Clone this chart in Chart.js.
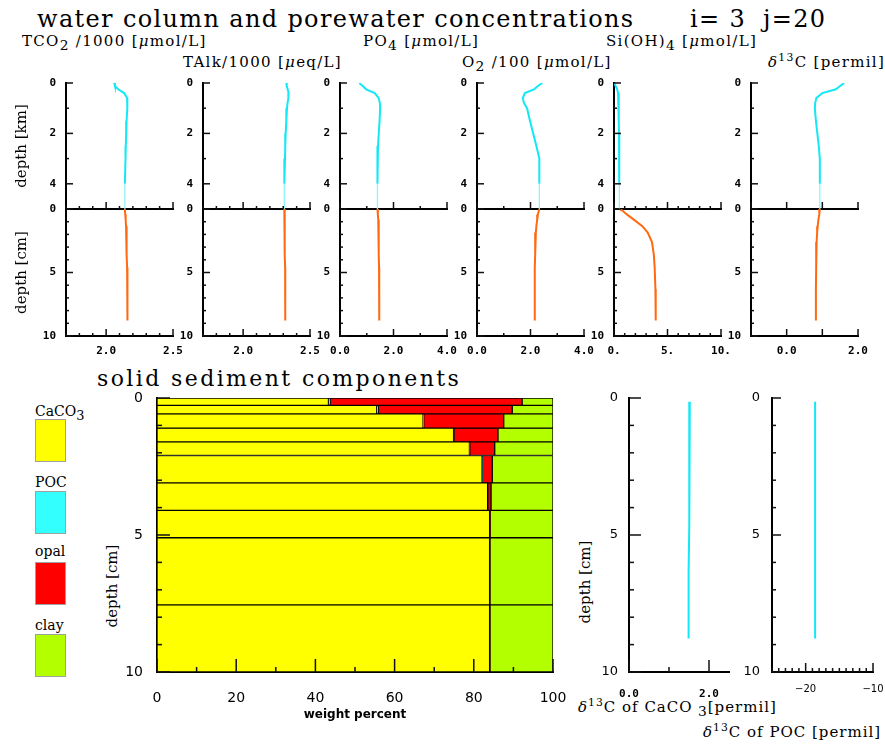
<!DOCTYPE html>
<html>
<head>
<meta charset="utf-8">
<title>water column and porewater concentrations</title>
<script src="https://cdn.jsdelivr.net/npm/chart.js@4/dist/chart.umd.min.js"></script>
<style>
  html, body { margin: 0; padding: 0; background: #fff; }
  #page { position: relative; width: 885px; height: 746px; overflow: hidden; font-family: 'DejaVu Serif', serif; color: #000; }
  .txt { position: absolute; white-space: nowrap; line-height: 1; }
  .big { font-size: 24px; letter-spacing: 1.35px; }
  .lbl { font-size: 15px; letter-spacing: 1.3px; }
  .rot { position: absolute; white-space: nowrap; line-height: 1; transform: translate(-50%, -50%) rotate(-90deg); }
  .swatch { position: absolute; width: 31px; height: 43px; border: 1px solid #a0a0a0; box-sizing: border-box; }
  .cv { position: absolute; }
  .lo { font-size: 92%; position: relative; top: 4px; }
  .hi { font-size: 72%; position: relative; top: -6px; }
</style>
</head>
<body>
<div id="page">
  <div class="txt big" style="left:37px;top:7px">water column and porewater concentrations</div>
  <div class="txt big" style="left:690px;top:7px">i= 3</div>
  <div class="txt big" style="left:763px;top:7px">j=20</div>

  <div class="txt lbl" style="left:22px;top:34px">TCO<span class="lo">2</span> /1000 [<i>μ</i>mol/L]</div>
  <div class="txt lbl" style="left:183px;top:55px">TAlk/1000 [<i>μ</i>eq/L]</div>
  <div class="txt lbl" style="left:363px;top:34px">PO<span class="lo">4</span> [<i>μ</i>mol/L]</div>
  <div class="txt lbl" style="left:462px;top:55px">O<span class="lo">2</span> /100 [<i>μ</i>mol/L]</div>
  <div class="txt lbl" style="left:606px;top:34px">Si(OH)<span class="lo">4</span> [<i>μ</i>mol/L]</div>
  <div class="txt lbl" style="left:768px;top:55px"><i>δ</i><span class="hi">13</span>C [permil]</div>

  <div class="txt" style="left:97px;top:368px;font-size:22px;letter-spacing:2.4px">solid sediment components</div>

  <div class="txt" style="left:35px;top:404px;font-size:14px">CaCO<span class="lo">3</span></div>
  <div class="swatch" style="left:35px;top:419px;background:#ffff00"></div>
  <div class="txt" style="left:35px;top:475px;font-size:14px">POC</div>
  <div class="swatch" style="left:35px;top:491px;background:#33ffff"></div>
  <div class="txt" style="left:35px;top:544px;font-size:14px">opal</div>
  <div class="swatch" style="left:35px;top:562px;background:#ff0000"></div>
  <div class="txt" style="left:35px;top:618px;font-size:14px">clay</div>
  <div class="swatch" style="left:35px;top:634px;background:#b3ff00"></div>

  <div class="rot" style="left:112px;top:586px;font-size:15px">depth [cm]</div>
  <div class="rot" style="left:585px;top:582px;font-size:15px">depth [cm]</div>
  <div class="txt" style="left:578px;top:700px;font-size:15px;letter-spacing:1px"><i>δ</i><span class="hi">13</span>C of CaCO<span class="lo"> 3</span>[permil]</div>
  <div class="txt" style="left:703px;top:725px;font-size:15px;letter-spacing:1px"><i>δ</i><span class="hi">13</span>C of POC [permil]</div>
</div>
<script>
// Water column (km) and porewater (cm) profiles for one grid cell,
// plus the solid sediment composition by layer.

const wcDepth = [0, 0.12, 0.25, 0.4, 0.6, 0.8, 1, 1.5, 2, 2.5, 3, 4, 5];
const tco2Water = [2.06, 2.066, 2.09, 2.135, 2.157, 2.16, 2.157, 2.153, 2.15, 2.147, 2.145, 2.14, 2.14];
const talkWater = [2.323, 2.326, 2.333, 2.34, 2.338, 2.332, 2.328, 2.323, 2.318, 2.315, 2.313, 2.308, 2.308];
const po4Water = [0.72, 0.85, 0.98, 1.3, 1.45, 1.49, 1.5, 1.48, 1.45, 1.42, 1.4, 1.4, 1.4];
const o2Water = [2.44, 2.28, 2.13, 1.79, 1.71, 1.76, 1.87, 1.98, 2.1, 2.22, 2.33, 2.33, 2.33];
const siWater = [0.03, 0.15, 0.3, 0.38, 0.42, 0.44, 0.45, 0.46, 0.47, 0.48, 0.49, 0.5, 0.5];
const d13cWater = [1.61, 1.5, 1.38, 1.0, 0.83, 0.8, 0.79, 0.82, 0.86, 0.9, 0.93, 0.93, 0.93];

const pwDepth = [0, 0.135, 0.425, 0.84, 1.35, 1.85, 2.6, 3.6, 4.6, 6.3, 8.775];
const tco2Pore = [2.14, 2.141, 2.143, 2.146, 2.149, 2.151, 2.153, 2.155, 2.157, 2.159, 2.16];
const talkPore = [2.308, 2.308, 2.309, 2.31, 2.311, 2.312, 2.313, 2.313, 2.314, 2.315, 2.315];
const po4Pore = [1.4, 1.41, 1.42, 1.43, 1.44, 1.445, 1.45, 1.455, 1.46, 1.465, 1.47];
const o2Pore = [2.33, 2.31, 2.28, 2.25, 2.22, 2.2, 2.18, 2.17, 2.16, 2.16, 2.16];
const siPore = [0.5, 0.81, 1.2, 1.85, 2.65, 3.15, 3.55, 3.72, 3.8, 3.87, 3.9];
const d13cPore = [0.93, 0.92, 0.91, 0.89, 0.87, 0.855, 0.84, 0.83, 0.825, 0.82, 0.82];

const layerEdges = [0, 0.27, 0.58, 1.1, 1.6, 2.1, 3.1, 4.1, 5.1, 7.55, 10];
const caco3Pct = [43.3, 55.5, 67.2, 74.9, 78.9, 82.1, 83.5, 84.0, 84.0, 84.0];
const pocPct = [0.5, 0.4, 0.15, 0.1, 0.08, 0.06, 0.05, 0.05, 0.05, 0.05];
const opalPct = [48.4, 33.8, 20.2, 11.1, 6.3, 2.5, 0.8, 0.1, 0.05, 0.05];
const clayPct = [7.8, 10.3, 12.45, 13.9, 14.72, 15.34, 15.65, 15.85, 15.9, 15.9];
const d13cCaco3 = [1.52, 1.52, 1.51, 1.51, 1.51, 1.5, 1.5, 1.5, 1.49, 1.49];
const d13cPoc = [-18.6, -18.6, -18.6, -18.6, -18.6, -18.6, -18.6, -18.6, -18.6, -18.6];

const CYAN = '#12e8f6';
const CYAN_PALE = '#8ef4fa';
const ORANGE = '#ff6a10';

Chart.defaults.font.family = "'DejaVu Sans', sans-serif";
Chart.defaults.color = '#000';

const page = document.getElementById('page');
const monoBold = { family: "'DejaVu Sans Mono', monospace", size: 11, weight: 'bold' };
const serif15 = { family: "'DejaVu Serif', serif", size: 15 };

// ticks are drawn pointing into the plot, longer on the major steps
const innerTicks = {
    id: 'innerTicks',
    afterDraw(chart, args, opts) {
        if (!opts || !opts.majorLen) return;
        const ctx = chart.ctx;
        ctx.save();
        ctx.strokeStyle = '#111';
        ctx.lineWidth = 1.5;
        ['x', 'y'].forEach(id => {
            const scale = chart.scales[id];
            const major = id === 'x' ? opts.xMajor : opts.yMajor;
            if (!scale || !major) return;
            scale.ticks.forEach(t => {
                const r = t.value / major;
                const len = Math.abs(r - Math.round(r)) < 1e-6 ? opts.majorLen : opts.minorLen;
                const p = scale.getPixelForValue(t.value);
                ctx.beginPath();
                if (id === 'x') { ctx.moveTo(p, scale.top); ctx.lineTo(p, scale.top - len); }
                else { ctx.moveTo(scale.right, p); ctx.lineTo(scale.right + len, p); }
                ctx.stroke();
            });
        });
        ctx.restore();
    }
};
Chart.register(innerTicks);

const onList = (list, v) => list.some(l => Math.abs(l - v) < 1e-6);
const fmt1 = v => v.toFixed(1);
const fmt0 = v => v.toFixed(0) + '.';

function addCanvas(left, top, width, height) {
    const wrap = document.createElement('div');
    wrap.className = 'cv';
    Object.assign(wrap.style, { left: left + 'px', top: top + 'px', width: width + 'px', height: height + 'px' });
    const canvas = document.createElement('canvas');
    wrap.appendChild(canvas);
    page.appendChild(wrap);
    return canvas;
}

function xAxis(s, height) {
    return {
        type: 'linear', min: s.min, max: s.max, stacked: !!s.stacked,
        ticks: {
            stepSize: s.step, autoSkip: false, maxRotation: 0, includeBounds: false, display: s.show !== false,
            padding: s.padding || 0, font: s.font || monoBold,
            callback: v => (onList(s.labels, v) ? s.fmt(v) : '')
        },
        grid: { display: false, drawTicks: false },
        border: { display: true, color: '#000', width: 2 },
        title: s.title
            ? { display: true, text: s.title, font: { size: 12, weight: 'bold' }, padding: { top: 0, bottom: 4 } }
            : { display: false },
        afterFit: sc => { sc.height = height; sc.paddingLeft = 0; sc.paddingRight = 0; }
    };
}

function yAxis(s, width) {
    return {
        type: 'linear', min: s.min, max: s.max, reverse: true, offset: false,
        ticks: {
            stepSize: s.step, autoSkip: false, includeBounds: false, padding: s.padding || 0, font: s.font || monoBold,
            callback: v => (onList(s.labels, v) ? s.fmt(v) : '')
        },
        grid: { display: false, drawTicks: false, offset: false },
        border: { display: true, color: '#000', width: 2 },
        title: s.title
            ? { display: true, text: s.title, font: serif15, padding: { top: 4, bottom: 0 } }
            : { display: false },
        afterFit: sc => { sc.width = width; sc.paddingTop = 0; sc.paddingBottom = 0; }
    };
}

function baseOptions(pad, ticks) {
    return {
        animation: false, responsive: true, maintainAspectRatio: false, events: [],
        layout: { autoPadding: false, padding: { top: pad.t, right: pad.r, bottom: 0, left: 0 } },
        plugins: { legend: { display: false }, tooltip: { enabled: false }, innerTicks: ticks }
    };
}

function profileChart(plot, pad, datasets, xs, ys, tickLen) {
    const canvas = addCanvas(plot.l - pad.l, plot.t - pad.t, plot.w + pad.l + pad.r, plot.h + pad.t + pad.b);
    const options = baseOptions(pad, { xMajor: xs.major, yMajor: ys.major, majorLen: tickLen[0], minorLen: tickLen[1] });
    options.scales = { x: xAxis(xs, pad.b), y: yAxis(ys, pad.l) };
    return new Chart(canvas, { type: 'scatter', data: { datasets }, options });
}

function lineSet(xs, ys, color, extra) {
    return Object.assign({
        data: xs.map((x, i) => ({ x, y: ys[i] })),
        showLine: true, borderColor: color, borderWidth: 2, pointRadius: 0
    }, extra || {});
}

// ---- water column / porewater panels ----
const panels = [
    { left: 66, water: tco2Water, pore: tco2Pore, min: 1.7, max: 2.5, step: 0.1, major: 0.5, labels: [2.0, 2.5], fmt: fmt1 },
    { left: 203, water: talkWater, pore: talkPore, min: 1.7, max: 2.5, step: 0.1, major: 0.5, labels: [2.0, 2.5], fmt: fmt1 },
    { left: 340, water: po4Water, pore: po4Pore, min: 0, max: 4, step: 1, major: 2, labels: [0, 2, 4], fmt: fmt1 },
    { left: 477, water: o2Water, pore: o2Pore, min: 0, max: 4, step: 1, major: 2, labels: [0, 2, 4], fmt: fmt1 },
    { left: 614, water: siWater, pore: siPore, min: 0, max: 10, step: 1, major: 5, labels: [0, 5, 10], fmt: fmt0 },
    { left: 751, water: d13cWater, pore: d13cPore, min: -1, max: 2, step: 1, major: 1, labels: [0, 2], fmt: fmt1 }
];

const PANEL_W = 107;
const TOP_Y = 83, MID_Y = 209, BOT_Y = 336;

panels.forEach((p, i) => {
    const first = i === 0;
    const padL = first ? 57 : 40;
    const x = { min: p.min, max: p.max, step: p.step, major: p.major, labels: p.labels, fmt: p.fmt };

    // upper half: water column, depth in km
    profileChart(
        { l: p.left, t: TOP_Y, w: PANEL_W, h: MID_Y - TOP_Y },
        { l: padL, t: 10, r: 14, b: 2 },
        [lineSet(p.water, wcDepth, CYAN, {
            segment: {
                borderColor: c => (c.p0.parsed.y >= 4 ? CYAN_PALE : undefined),
                borderWidth: c => (c.p0.parsed.y >= 4 ? 1.3 : undefined)
            }
        })],
        Object.assign({}, x, { show: false }),
        { min: 0, max: 5, step: 1, major: 2, labels: [0, 2, 4], fmt: v => String(v), padding: 10, title: first ? 'depth [km]' : null },
        [7, 3]
    );

    // lower half: porewater, depth in cm
    profileChart(
        { l: p.left, t: MID_Y, w: PANEL_W, h: BOT_Y - MID_Y },
        { l: padL, t: 10, r: 14, b: 30 },
        [lineSet(p.pore, pwDepth, ORANGE)],
        Object.assign({}, x, { padding: 9 }),
        { min: 0, max: 10, step: 1, major: 5, labels: [0, 5, 10], fmt: v => String(v), padding: 10, title: first ? 'depth [cm]' : null },
        [7, 3]
    );
});

// ---- solid sediment composition, one horizontal stacked bar per layer ----
const components = [
    { label: 'CaCO3', values: caco3Pct, color: '#ffff00' },
    { label: 'POC', values: pocPct, color: '#33ffff' },
    { label: 'opal', values: opalPct, color: '#ff0000' },
    { label: 'clay', values: clayPct, color: '#b3ff00' }
];

const barSets = [];
components.forEach(c => {
    c.values.forEach((v, k) => {
        const top = layerEdges[k], bot = layerEdges[k + 1];
        const h = bot - top;
        barSets.push({
            label: c.label, stack: 'sediment',
            backgroundColor: c.color, borderColor: '#000', borderWidth: 1, borderSkipped: false,
            barThickness: 'flex', categoryPercentage: 1, barPercentage: 1,
            // empty neighbours half a layer away make the flex bar fill exactly [top, bot]
            data: [{ y: top - h / 2, x: null }, { y: (top + bot) / 2, x: v }, { y: bot + h / 2, x: null }]
        });
    });
});

(function () {
    const plot = { l: 157, t: 398, w: 396, h: 274 };
    const pad = { l: 57, t: 10, r: 14, b: 54 };
    const canvas = addCanvas(plot.l - pad.l, plot.t - pad.t, plot.w + pad.l + pad.r, plot.h + pad.t + pad.b);
    const options = baseOptions(pad, { xMajor: 20, yMajor: 5, majorLen: 13, minorLen: 5 });
    options.indexAxis = 'y';
    options.scales = {
        x: xAxis({ min: 0, max: 100, step: 10, labels: [0, 20, 40, 60, 80, 100], fmt: v => String(v),
            padding: 18, font: { size: 14 }, stacked: true, title: 'weight percent' }, pad.b),
        y: yAxis({ min: 0, max: 10, step: 1, labels: [0, 5, 10], fmt: v => String(v),
            padding: 14, font: { size: 14 } }, pad.l)
    };
    new Chart(canvas, { type: 'bar', data: { datasets: barSets }, options });
})();

// ---- solid phase isotope profiles at layer centres ----
const layerMid = layerEdges.slice(1).map((b, k) => (layerEdges[k] + b) / 2);
const solidY = { min: 0, max: 10, step: 1, major: 5, labels: [0, 5, 10], fmt: v => String(v), padding: 11, font: { size: 13 } };

profileChart(
    { l: 629, t: 398, w: 100, h: 274 },
    { l: 40, t: 10, r: 14, b: 30 },
    [lineSet(d13cCaco3, layerMid, CYAN)],
    { min: 0, max: 2.5, step: 1, major: 2, labels: [0, 2], fmt: fmt1, padding: 16 },
    solidY,
    [12, 5]
);

profileChart(
    { l: 772, t: 398, w: 101, h: 274 },
    { l: 40, t: 10, r: 12, b: 30 },
    [lineSet(d13cPoc, layerMid, CYAN)],
    { min: -25, max: -10, step: 1, major: 10, labels: [-20, -10], fmt: v => '\u2212' + Math.abs(v),
        padding: 11, font: { size: 10 } },
    Object.assign({}, solidY, { padding: 12 }),
    [9, 4]
);
</script>
</body>
</html>
